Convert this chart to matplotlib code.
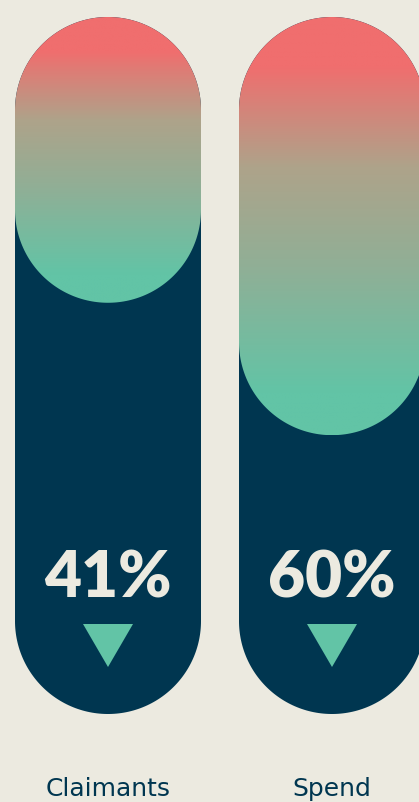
import matplotlib
matplotlib.use('Agg')
import matplotlib.pyplot as plt
import numpy as np
from matplotlib.patches import Polygon
from matplotlib.colors import LinearSegmentedColormap

# Data
categories = ['Claimants', 'Spend']
values = [41, 60]          # percent decrease
value_labels = ['41%', '60%']

BG = '#ECEAE0'
NAVY = '#003650'
TEAL = '#62C4A6'
CORAL = '#F06E6E'

grad = LinearSegmentedColormap.from_list(
    'fill', [(0.0, CORAL), (0.12, CORAL), (0.36, '#AEA38A'),
             (0.6, '#90AF96'), (0.9, TEAL), (1.0, TEAL)])

W, H = 419, 803
fig = plt.figure(figsize=(W / 100, H / 100), dpi=100, facecolor=BG)
ax = fig.add_axes([0, 0, 1, 1])
ax.set_xlim(0, W)
ax.set_ylim(H, 0)
ax.axis('off')

centers = [108, 332]
width = 186
top, bottom = 18, 715
rad = width / 2
pill_h = bottom - top


def capsule(cx, y0, h, r):
    """Vertical pill outline (y grows downward)."""
    t = np.linspace(np.pi, 0, 120)
    upper = np.column_stack([cx + r * np.cos(t), y0 + r - r * np.sin(t)])
    t = np.linspace(0, np.pi, 120)
    lower = np.column_stack([cx + r * np.cos(t), y0 + h - r + r * np.sin(t)])
    return np.vstack([upper, lower])


ramp = np.linspace(0, 1, 512).reshape(-1, 1)

for cx, val, lab, cat in zip(centers, values, value_labels, categories):
    x0 = cx - rad
    ax.add_patch(Polygon(capsule(cx, top, pill_h, rad), closed=True,
                         fc=NAVY, ec='none', zorder=1))

    fill_h = pill_h * val / 100
    fill = Polygon(capsule(cx, top, fill_h, rad), closed=True,
                   fc='none', ec='none', zorder=2)
    ax.add_patch(fill)
    im = ax.imshow(ramp, cmap=grad, aspect='auto', origin='upper',
                   extent=(x0, x0 + width, top + fill_h, top),
                   interpolation='bilinear', zorder=2)
    im.set_clip_path(fill)

    ax.text(cx, 598, lab, ha='center', va='baseline', color=BG,
            fontsize=46, fontweight='heavy', family='Lato', zorder=3)

    tri = Polygon([[cx - 25, 625], [cx + 25, 625], [cx, 668]],
                  closed=True, fc=TEAL, ec='none', zorder=3)
    ax.add_patch(tri)

    ax.text(cx, 796, cat, ha='center', va='baseline', color=NAVY,
            fontsize=18, family='DejaVu Sans', zorder=3)

ax.set_xlim(0, W)
ax.set_ylim(H, 0)
fig.savefig('out.png', dpi=100, facecolor=BG)
